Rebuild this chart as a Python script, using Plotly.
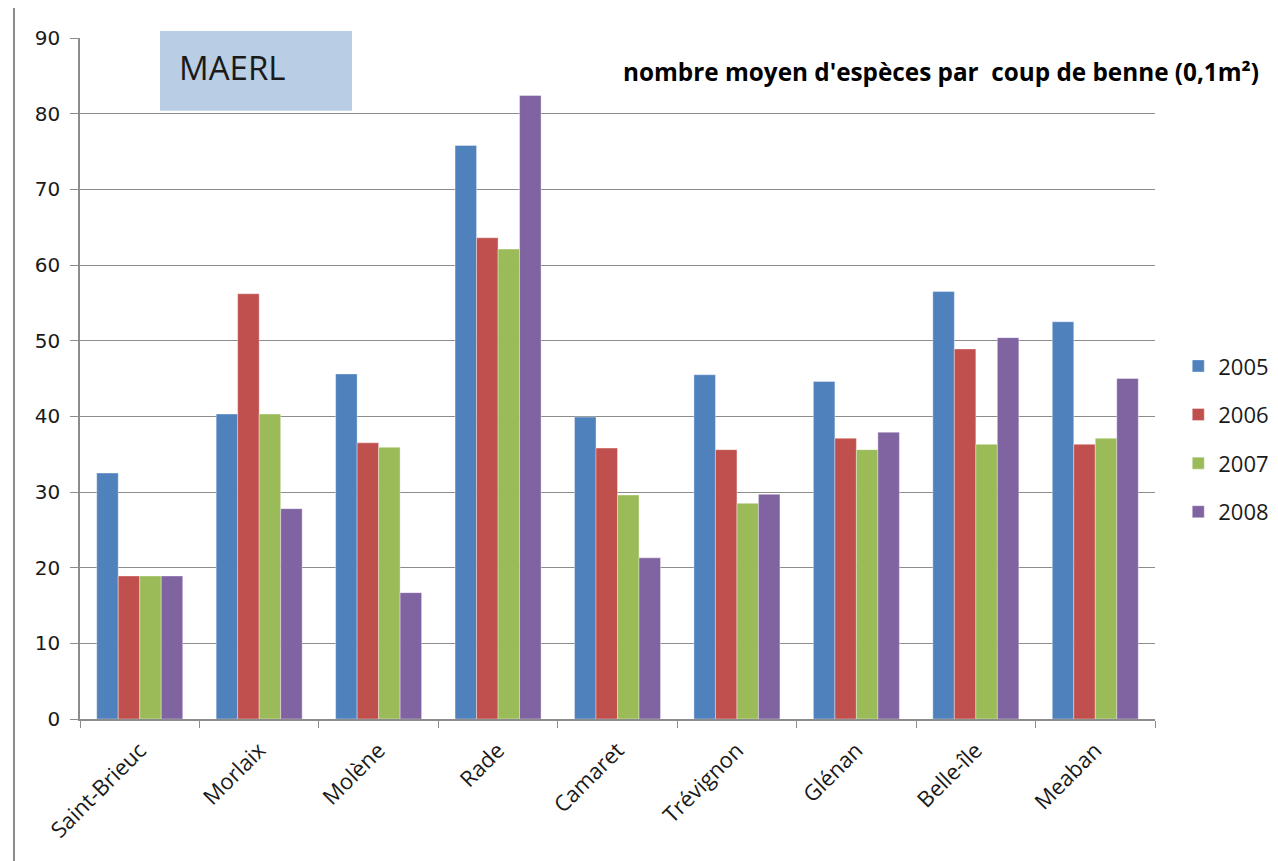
import plotly.graph_objects as go

sites = ["Saint-Brieuc", "Morlaix", "Molène", "Rade", "Camaret",
         "Trévignon", "Glénan", "Belle-île", "Meaban"]
years = ["2005", "2006", "2007", "2008"]

v2005 = [32.5, 40.3, 45.6, 75.8, 39.9, 45.5, 44.6, 56.5, 52.5]
v2006 = [18.9, 56.2, 36.5, 63.6, 35.8, 35.6, 37.1, 48.9, 36.3]
v2007 = [18.9, 40.3, 35.9, 62.1, 29.6, 28.5, 35.6, 36.3, 37.1]
v2008 = [18.9, 27.8, 16.7, 82.4, 21.3, 29.7, 37.9, 50.4, 45.0]

colors = ['#4f81bd', '#c0504d', '#9bbb59', '#8064a2']

fig = go.Figure()

for i, (yr, vals) in enumerate(zip(years, [v2005, v2006, v2007, v2008])):
    fig.add_trace(go.Bar(
        x=sites,
        y=vals,
        name=yr,
        legendgroup=yr,
        marker=dict(color=colors[i], line=dict(color='rgba(255,255,255,0.6)', width=0.6)),
    ))

# the page body adds an 8px offset, margins are trimmed to compensate
fig.update_layout(
    barmode='group',
    bargap=0.28,
    bargroupgap=0,
    width=1278,
    height=861,
    margin=dict(l=72, r=131, t=30, b=150, autoexpand=False),
    paper_bgcolor='white',
    plot_bgcolor='white',
    font=dict(family='Open Sans', color='#000000'),
    legend=dict(
        xref='container', x=0.9157, y=0.549, xanchor='left', yanchor='top',
        font=dict(size=22, family='Open Sans', color='#1a1a1a'),
        tracegroupgap=17,
        itemwidth=30,
        bgcolor='rgba(0,0,0,0)',
    ),
    shapes=[
        # outer chart frame
        dict(type='rect', xref='paper', yref='paper',
             x0=-0.0614, x1=1.3, y0=-0.4, y1=1.047,
             line=dict(color='#8c8c8c', width=2), layer='below'),
        # MAERL box
        dict(type='rect', xref='paper', yref='paper',
             x0=0.0744, x1=0.253, y0=0.893, y1=1.0103,
             fillcolor='#b9cde5', line=dict(width=0), layer='above'),
    ],
    annotations=[
        dict(text='MAERL', xref='paper', yref='paper', x=0.090, y=0.957,
             xanchor='left', yanchor='middle', showarrow=False,
             font=dict(size=33, family='Open Sans', color='#1a1a1a')),
        dict(text="<b>nombre moyen d'espèces par  coup de benne (0,1m²)</b>",
             xref='paper', yref='paper', x=0.503, y=0.951,
             xanchor='left', yanchor='middle', showarrow=False,
             font=dict(size=24.3, family='Open Sans', color='#000000')),
    ],
)

fig.update_xaxes(
    tickangle=-45,
    tickfont=dict(size=22, family='Open Sans', color='#1a1a1a'),
    showline=True, linecolor='#8c8c8c', linewidth=1.5,
    ticks='outside', ticklen=7, tickcolor='#8c8c8c',
    tickson='boundaries',
    ticklabelstandoff=8,
    showgrid=False,
)

fig.update_yaxes(
    range=[0, 90],
    dtick=10,
    tickfont=dict(size=20, family='DejaVu Sans', color='#1a1a1a'),
    showline=True, linecolor='#8c8c8c', linewidth=1.5,
    ticks='outside', ticklen=8, tickcolor='#8c8c8c',
    ticklabelstandoff=6,
    showgrid=True, gridcolor='#8c8c8c', gridwidth=1.2,
    zeroline=False,
)

fig.write_html("out.html")
